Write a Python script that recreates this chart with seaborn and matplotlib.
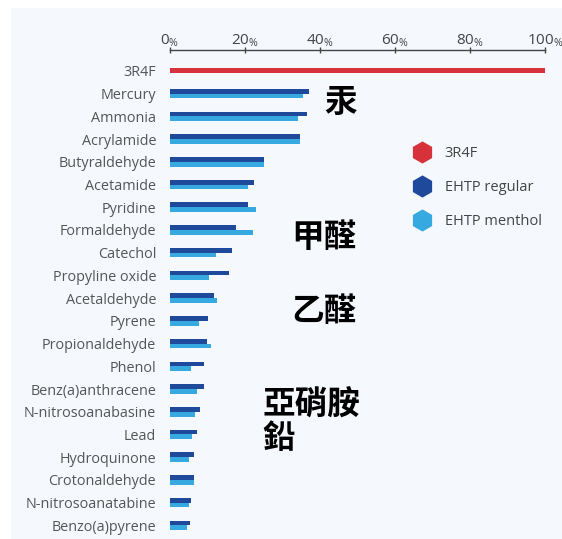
import matplotlib
matplotlib.use("Agg")
import matplotlib.pyplot as plt
import seaborn as sns
import pandas as pd
from matplotlib.lines import Line2D
from matplotlib.patches import Rectangle

# values in % of the 3R4F reference cigarette
reference_name = "3R4F"
reference_value = [100]

compounds = [
    "Mercury", "Ammonia", "Acrylamide", "Butyraldehyde", "Acetamide",
    "Pyridine", "Formaldehyde", "Catechol", "Propyline oxide", "Acetaldehyde",
    "Pyrene", "Propionaldehyde", "Phenol", "Benz(a)anthracene",
    "N-nitrosoanabasine", "Lead", "Hydroquinone", "Crotonaldehyde",
    "N-nitrosoanatabine", "Benzo(a)pyrene",
]
ehtp_regular = [37.1, 36.5, 34.7, 25.1, 22.4, 20.9, 17.6, 16.4, 15.6, 11.7,
                10.2, 9.8, 9.1, 9.0, 8.0, 7.1, 6.5, 6.5, 5.6, 5.3]
ehtp_menthol = [35.5, 34.2, 34.7, 25.1, 20.9, 22.8, 22.0, 12.3, 10.5, 12.6,
                7.8, 10.8, 5.5, 7.1, 6.7, 5.8, 5.1, 6.5, 5.1, 4.6]

series_names = ["3R4F", "EHTP regular", "EHTP menthol"]
x_ticks = [0, 20, 40, 60, 80, 100]
notes = ["汞", "甲醛", "乙醛", "亞硝胺\n鉛"]

colors = {"3R4F": "#d7323b", "EHTP regular": "#1f4a9b", "EHTP menthol": "#36a9e1"}
order = [reference_name] + compounds

ehtp = pd.DataFrame({
    "compound": compounds * 2,
    "series": ["EHTP regular"] * len(compounds) + ["EHTP menthol"] * len(compounds),
    "value": ehtp_regular + ehtp_menthol,
})
ref = pd.DataFrame({"compound": [reference_name], "value": reference_value})

sns.set_style("white")
plt.rcParams["font.family"] = ["Open Sans", "DejaVu Sans"]
plt.rcParams["mathtext.fontset"] = "custom"
plt.rcParams["mathtext.rm"] = "Open Sans"

W, H = 562, 539
fig = plt.figure(figsize=(W / 100, H / 100), dpi=100, facecolor="white")
fig.patches.append(Rectangle((11 / W, 0), 1, 1 - 8 / H, transform=fig.transFigure,
                             facecolor="#f5f9fd", edgecolor="none", zorder=-10))

ax = fig.add_axes([170 / W, 0, 375 / W, 1 - 50 / H])
ax.set_facecolor("none")

sns.barplot(data=ehtp, y="compound", x="value", hue="series", order=order,
            hue_order=["EHTP regular", "EHTP menthol"], saturation=1,
            palette=colors, width=0.42, errorbar=None, legend=False, ax=ax)
sns.barplot(data=ref, y="compound", x="value", order=order, color=colors["3R4F"],
            width=0.22, errorbar=None, saturation=1, ax=ax)
for p in ax.patches:
    p.set_edgecolor("none")

ax.set_xlim(0, 100)
ax.set_ylim(20.6, -0.92)
ax.set_xlabel("")
ax.set_ylabel("")

ax.xaxis.tick_top()
ax.set_xticks(x_ticks)
ax.set_xticklabels([r"$\mathregular{%d_{\%%}}$" % v for v in x_ticks])
ax.tick_params(axis="x", direction="inout", length=5, width=1, color="#444444",
               labelsize=11, labelcolor="#444444", pad=-2)
ax.tick_params(axis="y", length=0, labelsize=10.4, labelcolor="#555555", pad=10)

for s in ["left", "right", "bottom"]:
    ax.spines[s].set_visible(False)
ax.spines["top"].set_color("#444444")
ax.spines["top"].set_linewidth(1)

handles = [Line2D([], [], marker="h", linestyle="none", markersize=16,
                  markerfacecolor=colors[n], markeredgecolor="none") for n in series_names]
fig.legend(handles, series_names, loc="upper left", bbox_to_anchor=(398 / W, 1 - 133 / H),
           frameon=False, fontsize=10.5, labelcolor="#444444", labelspacing=1.3,
           handletextpad=0.8, handlelength=1.5)

cjk = ["Noto Sans CJK TC", "DejaVu Sans"]
note_pos = [(324, 102), (291, 237), (291, 312), (262, 422)]
for text, (px, py) in zip(notes, note_pos):
    fig.text(px / W, 1 - py / H, text, family=cjk, fontsize=23.5, fontweight="bold",
             color="black", ha="left", va="center", linespacing=1.0)

fig.savefig("out.png", dpi=100, facecolor="white")
